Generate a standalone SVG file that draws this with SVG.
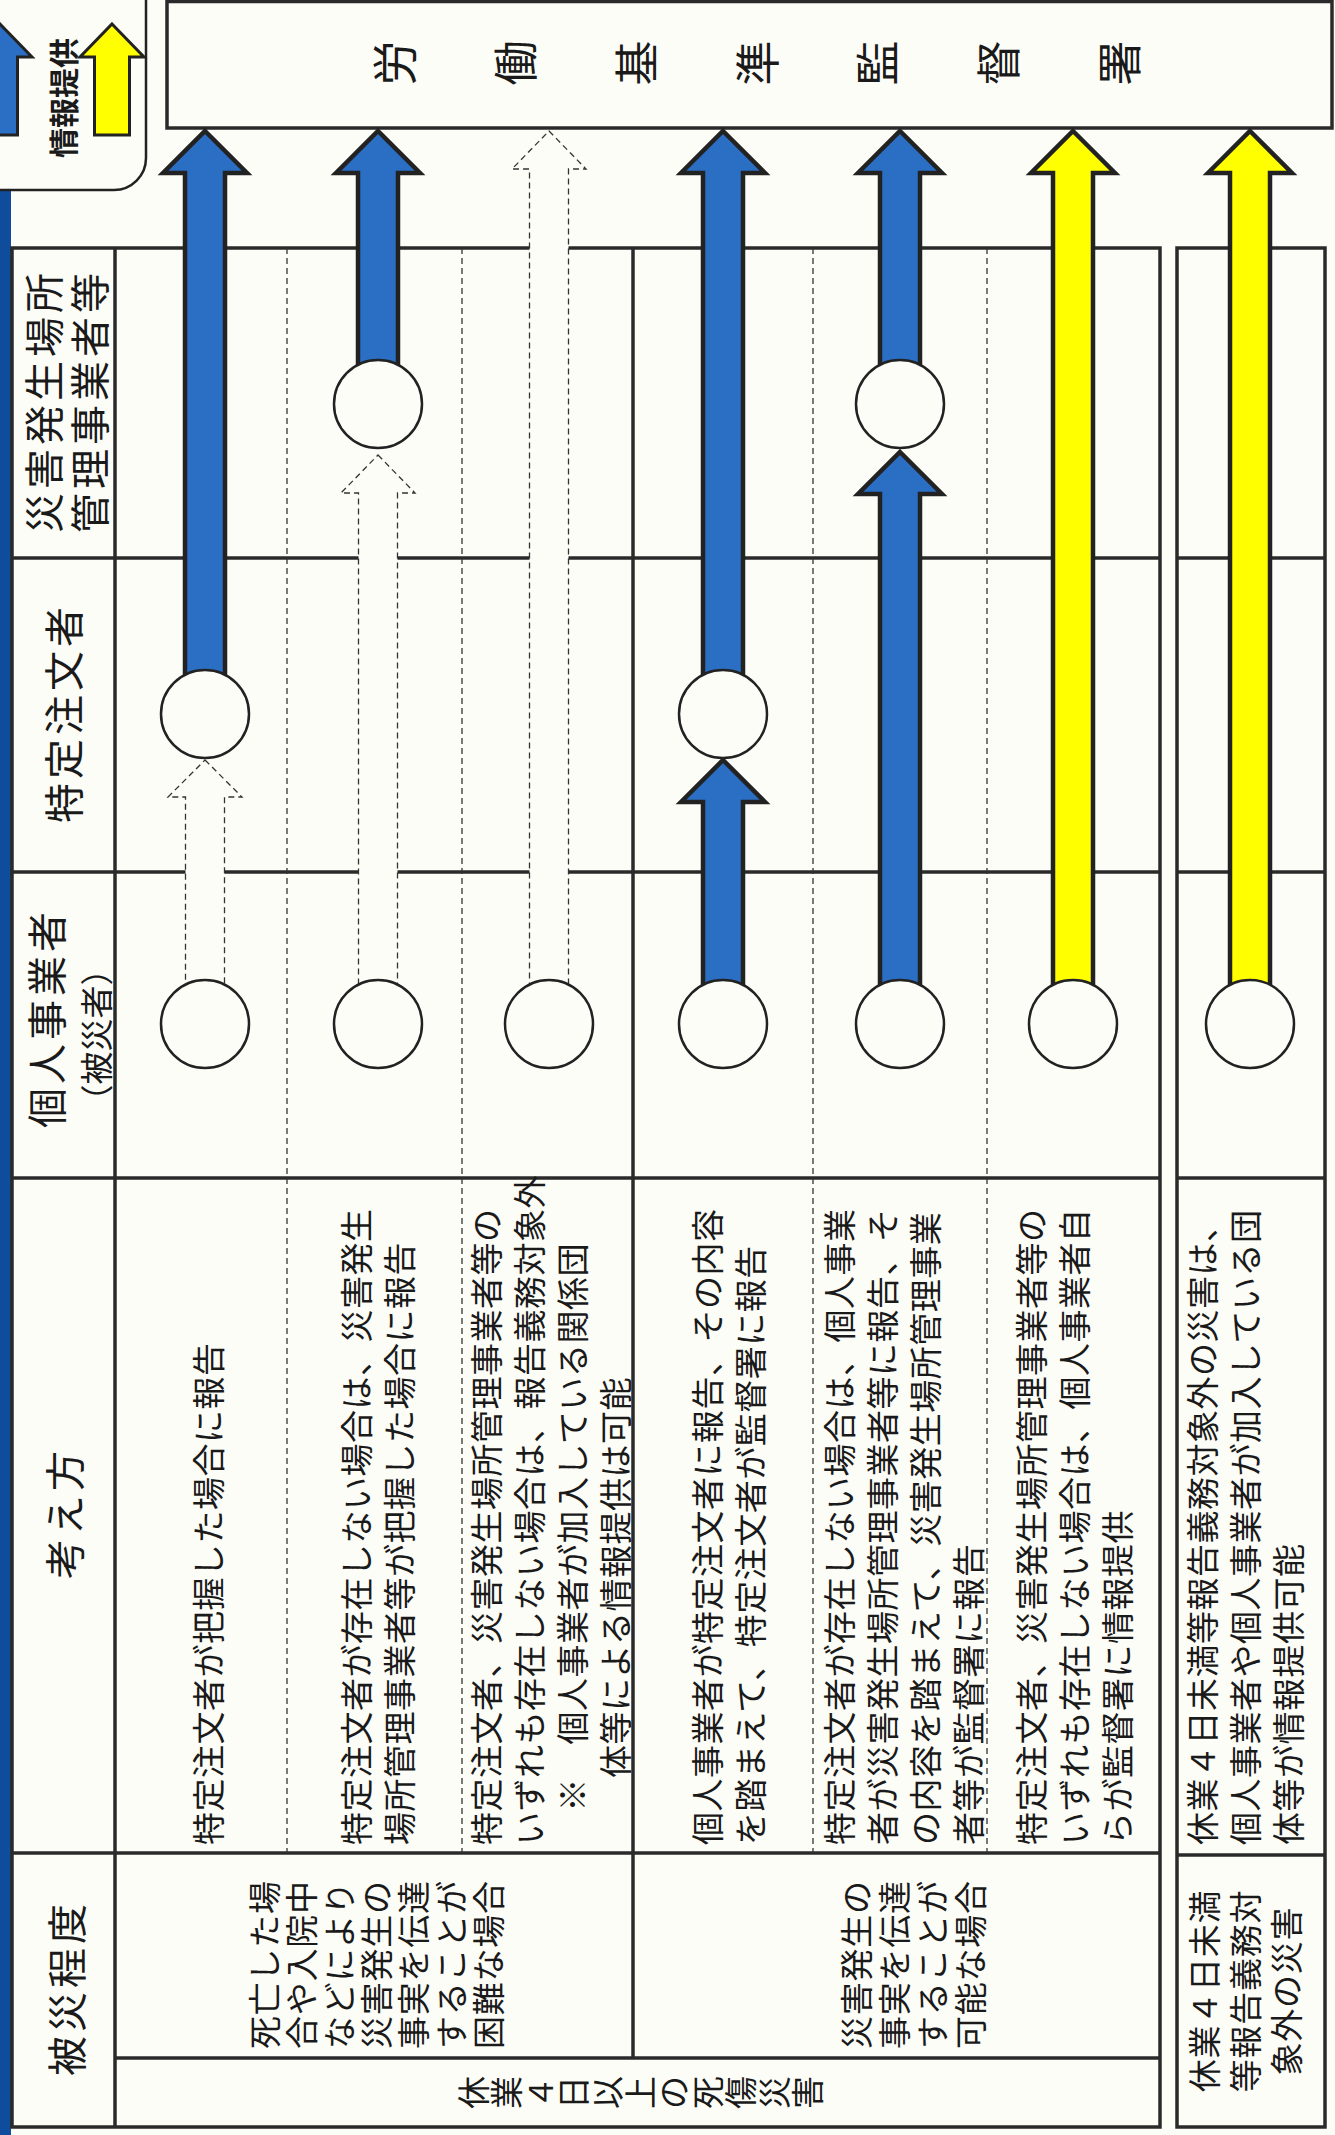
<svg xmlns="http://www.w3.org/2000/svg" width="1335" height="2135" viewBox="0 0 1335 2135">
<defs>
<style>
.t{font-family:"Noto Sans CJK JP","Noto Sans CJK SC",sans-serif;fill:#1a1a1a;dominant-baseline:central}
.b{font-size:33px;letter-spacing:0.5px}
.s{font-size:33px;letter-spacing:0.75px}
.h{font-size:40px;letter-spacing:4px;text-anchor:middle}
.m{text-anchor:middle}
.ln{stroke:#2a2a2a;stroke-width:3.5;fill:none}
.dl{stroke:#333;stroke-width:1.3;stroke-dasharray:6 4;fill:none}
.ab{fill:#2b6fc5;stroke:#222;stroke-width:4.5;stroke-linejoin:miter}
.ay{fill:#ffff00;stroke:#222;stroke-width:4.5;stroke-linejoin:miter}
.ad{fill:#fdfdf8;stroke:#333;stroke-width:1.3;stroke-dasharray:6 4}
.c{fill:#fdfdf8;stroke:#222;stroke-width:2.5}
</style>
</defs>
<rect x="0" y="0" width="1335" height="2135" fill="#fdfdf8"/>
<rect x="0" y="0" width="11" height="2135" fill="#0f4c9c"/>

<g id="legend">
<path d="M-20,-20 H146 V158 A32,32 0 0 1 114,190 H-20 Z" fill="#fdfdf8" stroke="#222" stroke-width="2.5"/>
<path class="ab" style="stroke-width:3" d="M0,24 L32,57 L17.5,57 L17.5,135 L-17.5,135 L-17.5,57 L-32,57 Z"/>
<path class="ay" style="stroke-width:3" d="M112,24 L144,57 L129.5,57 L129.5,135 L94.5,135 L94.5,57 L80,57 Z"/>
</g>

<g id="office">
<rect x="167" y="1.5" width="1165" height="126.5" fill="#fdfdf8" stroke="#2a2a2a" stroke-width="3.5"/>
</g>

<g id="table">
<rect class="ln" x="12" y="248" width="1148" height="1879"/>
<line class="ln" x1="115" y1="248" x2="115" y2="2127"/>
<line class="ln" x1="12" y1="558" x2="1160" y2="558"/>
<line class="ln" x1="12" y1="872" x2="1160" y2="872"/>
<line class="ln" x1="12" y1="1178" x2="1160" y2="1178"/>
<line class="ln" x1="12" y1="1853" x2="1160" y2="1853"/>
<line class="ln" x1="115" y1="2058" x2="1160" y2="2058"/>
<line class="ln" x1="633" y1="248" x2="633" y2="2058"/>
<line class="dl" x1="287" y1="248" x2="287" y2="1853"/>
<line class="dl" x1="462" y1="248" x2="462" y2="1853"/>
<line class="dl" x1="813" y1="248" x2="813" y2="1853"/>
<line class="dl" x1="987" y1="248" x2="987" y2="1853"/>
</g>
<g id="table-minor">
<rect class="ln" x="1177" y="248" width="148" height="1879"/>
<line class="ln" x1="1177" y1="558" x2="1325" y2="558"/>
<line class="ln" x1="1177" y1="872" x2="1325" y2="872"/>
<line class="ln" x1="1177" y1="1178" x2="1325" y2="1178"/>
<line class="ln" x1="1177" y1="1855" x2="1325" y2="1855"/>
</g>

<g id="connectors">
<path class="ab" d="M205,131 L247,173 L225,173 L225,714 L185,714 L185,173 L163,173 Z"/>
<path class="ad" d="M205,760 L242,797 L224.5,797 L224.5,1024 L185.5,1024 L185.5,797 L168,797 Z"/>
<path class="ab" d="M378,131 L420,173 L398,173 L398,404 L358,404 L358,173 L336,173 Z"/>
<path class="ad" d="M378,455 L415,493 L397.5,493 L397.5,1024 L358.5,1024 L358.5,493 L341,493 Z"/>
<path class="ad" d="M549,131 L586,169 L568.5,169 L568.5,1024 L529.5,1024 L529.5,169 L512,169 Z"/>
<path class="ab" d="M723,131 L765,173 L743,173 L743,714 L703,714 L703,173 L681,173 Z"/>
<path class="ab" d="M723,760 L765,802 L743,802 L743,1024 L703,1024 L703,802 L681,802 Z"/>
<path class="ab" d="M900,131 L942,173 L920,173 L920,404 L880,404 L880,173 L858,173 Z"/>
<path class="ab" d="M900,452 L942,494 L920,494 L920,1024 L880,1024 L880,494 L858,494 Z"/>
<path class="ay" d="M1073,131 L1115,173 L1093,173 L1093,1024 L1053,1024 L1053,173 L1031,173 Z"/>
<path class="ay" d="M1250,131 L1292,173 L1270,173 L1270,1024 L1230,1024 L1230,173 L1208,173 Z"/>
</g>

<g id="nodes">
<circle class="c" cx="205" cy="714" r="44"/>
<circle class="c" cx="378" cy="404" r="44"/>
<circle class="c" cx="723" cy="714" r="44"/>
<circle class="c" cx="900" cy="404" r="44"/>
<circle class="c" cx="205" cy="1024" r="44"/>
<circle class="c" cx="378" cy="1024" r="44"/>
<circle class="c" cx="549" cy="1024" r="44"/>
<circle class="c" cx="723" cy="1024" r="44"/>
<circle class="c" cx="900" cy="1024" r="44"/>
<circle class="c" cx="1073" cy="1024" r="44"/>
<circle class="c" cx="1250" cy="1024" r="44"/>
</g>

<g id="labels" transform="translate(0 2135) rotate(-90)">
<text class="t m" x="2037" y="62" font-size="30" font-weight="bold">情報提供</text>
<text class="t m" font-size="45"><tspan x="2072" y="392">労</tspan><tspan x="2072" y="513">働</tspan><tspan x="2072" y="634">基</tspan><tspan x="2072" y="755">準</tspan><tspan x="2072" y="875">監</tspan><tspan x="2072" y="996">督</tspan><tspan x="2072" y="1117">署</tspan></text>

<text class="t h" x="147" y="65">被災程度</text>
<text class="t h" x="622" y="63">考え方</text>
<text class="t h" x="1117" y="45">個人事業者</text>
<text class="t m" x="1100" y="95" font-size="33">（被災者）</text>
<text class="t h" x="1422" y="62">特定注文者</text>
<text class="t h" x="1734" y="42">災害発生場所</text>
<text class="t h" x="1734" y="88">管理事業者等</text>

<text class="t b" x="290" y="207">特定注文者が把握した場合に報告</text>
<text class="t b" x="290" y="355">特定注文者が存在しない場合は、災害発生</text>
<text class="t b" x="290" y="398">場所管理事業者等が把握した場合に報告</text>
<text class="t b" x="290" y="485">特定注文者、災害発生場所管理事業者等の</text>
<text class="t b" x="290" y="528">いずれも存在しない場合は、報告義務対象外</text>
<text class="t b" x="323.5" y="571">※　個人事業者が加入している関係団</text>
<text class="t b" x="357" y="614">体等による情報提供は可能</text>
<text class="t b" x="290" y="706">個人事業者が特定注文者に報告、その内容</text>
<text class="t b" x="290" y="749">を踏まえて、特定注文者が監督署に報告</text>
<text class="t b" x="290" y="838">特定注文者が存在しない場合は、個人事業</text>
<text class="t b" x="290" y="881">者が災害発生場所管理事業者等に報告、そ</text>
<text class="t b" x="290" y="924">の内容を踏まえて、災害発生場所管理事業</text>
<text class="t b" x="290" y="967">者等が監督署に報告</text>
<text class="t b" x="290" y="1030">特定注文者、災害発生場所管理事業者等の</text>
<text class="t b" x="290" y="1073">いずれも存在しない場合は、個人事業者自</text>
<text class="t b" x="290" y="1116">らが監督署に情報提供</text>
<text class="t b" x="290" y="1201">休業４日未満等報告義務対象外の災害は、</text>
<text class="t b" x="290" y="1244">個人事業者や個人事業者が加入している団</text>
<text class="t b" x="290" y="1287">体等が情報提供可能</text>

<text class="t s" x="86" y="263">死亡した場</text>
<text class="t s" x="86" y="300">合や入院中</text>
<text class="t s" x="86" y="338">などにより</text>
<text class="t s" x="86" y="375">災害発生の</text>
<text class="t s" x="86" y="412">事実を伝達</text>
<text class="t s" x="86" y="450">することが</text>
<text class="t s" x="86" y="487">困難な場合</text>
<text class="t s" x="86" y="855">災害発生の</text>
<text class="t s" x="86" y="893">事実を伝達</text>
<text class="t s" x="86" y="931">することが</text>
<text class="t s" x="86" y="969">可能な場合</text>

<text class="t m" font-size="33"><tspan x="42.5" y="472">休</tspan><tspan x="42.5" y="505">業</tspan><tspan x="42.5" y="539">４</tspan><tspan x="42.5" y="572">日</tspan><tspan x="42.5" y="606">以</tspan><tspan x="42.5" y="639">上</tspan><tspan x="42.5" y="672">の</tspan><tspan x="42.5" y="706">死</tspan><tspan x="42.5" y="739">傷</tspan><tspan x="42.5" y="773">災</tspan><tspan x="42.5" y="806">害</tspan></text>

<text class="t s m" x="144" y="1203">休業４日未満</text>
<text class="t s m" x="144" y="1244">等報告義務対</text>
<text class="t s m" x="144" y="1285">象外の災害</text>
</g>
</svg>
